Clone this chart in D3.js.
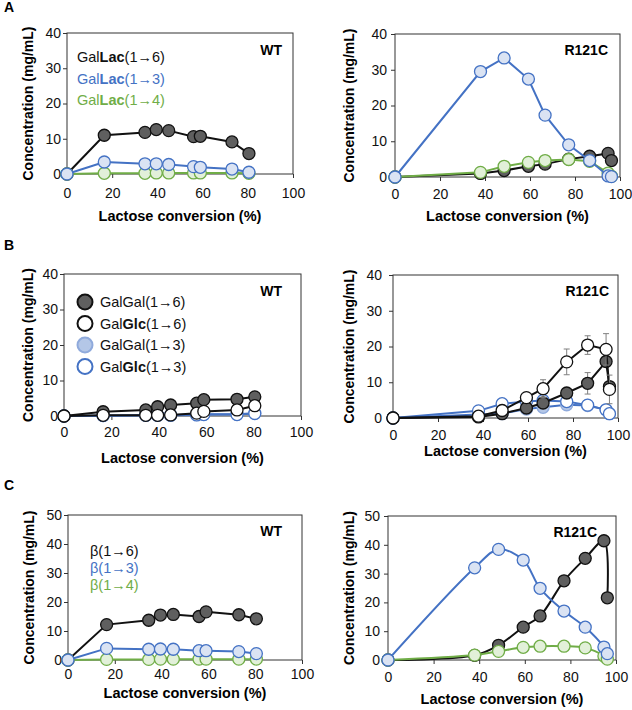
<!DOCTYPE html>
<html>
<head>
<meta charset="utf-8">
<script src="https://cdn.jsdelivr.net/npm/d3@7"></script>
<style>
  body { margin: 0; background: #fff; }
  svg { display: block; font-family: "Liberation Sans", Arial, sans-serif; }
</style>
</head>
<body>
<svg id="fig" width="632" height="710"></svg>
<script>
// lactose conversion (%) at each sampling point
const convWT = [0, 16.5, 34.5, 39.5, 45, 56, 59, 73, 80.5];
const convR121C = [0, 38, 48.5, 59.3, 66.7, 77.2, 86.5, 94.7, 96.2];
const xTicks = [0, 20, 40, 60, 80, 100];
const yTicks40 = [0, 10, 20, 30, 40];
const yTicks50 = [0, 10, 20, 30, 40, 50];

// A: trisaccharides (mg/mL)
const galLac16WT = [0, 11.0, 11.8, 12.6, 12.3, 10.6, 10.7, 9.1, 5.8];
const galLac13WT = [0, 3.4, 2.9, 2.9, 2.7, 2.1, 1.9, 1.4, 0.5];
const galLac14WT = [0, 0.2, 0.2, 0.3, 0.3, 0.3, 0.3, 0.3, 0.2];
const galLac16WTerr = [0, 0, 0, 0, 0, 0, 1.0, 0, 0];
const galLac16R = [0, 1.0, 1.8, 3.0, 3.6, 5.0, 5.8, 6.6, 4.6];
const galLac13R = [0, 29.5, 33.3, 27.4, 17.3, 9.0, 4.6, 0.3, 0.1];
const galLac14R = [0, 1.3, 3.0, 4.1, 4.6, 4.9, 4.4, 1.1, 0.2];
const galLac13Rerr = [0, 1.0, 0, 0, 0, 0, 0, 0, 0];

// B: disaccharides (mg/mL)
const galGal16WT = [0, 1.2, 1.7, 2.6, 3.1, 3.6, 4.6, 4.7, 5.4];
const galGlc16WT = [0, 0.2, 0.2, 0.2, 0.3, 0.8, 1.3, 1.7, 2.9];
const galGal13WT = [0, 0.1, 0.2, 0.2, 0.3, 0.4, 0.5, 0.5, 0.8];
const galGlc13WT = [0, 0.1, 0.2, 0.2, 0.2, 0.3, 0.4, 0.4, 0.7];
const galGal16R = [0, 0.3, 1.2, 2.8, 4.2, 7.0, 9.7, 15.8, 8.8];
const galGlc16R = [0, 0.5, 2.1, 5.7, 8.2, 15.7, 20.4, 19.2, 8.0];
const galGal13R = [0, 1.0, 1.2, 2.5, 3.0, 3.7, 3.5, 2.3, 1.2];
const galGlc13R = [0, 2.0, 4.0, 4.6, 4.9, 4.6, 3.6, 2.3, 1.2];
const galGal16Rerr = [0, 0, 0, 0, 0, 0, 3.0, 0, 0];
const galGlc16Rerr = [0, 0, 0, 0, 2.5, 3.6, 2.6, 4.4, 4.0];

// C: sum per linkage (mg/mL)
const beta16WT = [0, 12.2, 13.7, 15.5, 15.7, 15.0, 16.6, 15.6, 14.2];
const beta13WT = [0, 4.0, 3.7, 3.8, 3.7, 3.2, 3.2, 2.9, 2.2];
const beta14WT = [0, 0.2, 0.2, 0.3, 0.3, 0.3, 0.3, 0.3, 0.3];
const beta16R = [0, 1.6, 5.1, 11.4, 15.3, 27.5, 35.3, 41.4, 21.6];
const beta13R = [0, 32.0, 38.4, 34.7, 24.9, 17.0, 11.4, 4.5, 2.2];
const beta14R = [0, 1.7, 3.0, 4.4, 4.8, 4.8, 4.2, 1.4, 0.3];

const styles = {
  dark:   { line: "#111", stroke: "#111", fill: "#5f5f5f" },
  white:  { line: "#111", stroke: "#111", fill: "#fff" },
  blue:   { line: "#4472c4", stroke: "#4472c4", fill: "#dae3f3" },
  blueF:  { line: "#4472c4", stroke: "#8faadc", fill: "#b4c7e7" },
  blueW:  { line: "#4472c4", stroke: "#4472c4", fill: "#fff" },
  green:  { line: "#70ad47", stroke: "#70ad47", fill: "#e2f0d9" }
};

const svg = d3.select("#fig");

function drawPanel(p) {
  const x = d3.scaleLinear().domain([0, 100]).range([p.left, p.right]);
  const y = d3.scaleLinear().domain([0, p.yMax]).range([p.bottom, p.top]);
  const g = svg.append("g");

  const ax = g.append("g")
    .attr("transform", `translate(0,${p.bottom})`)
    .call(d3.axisBottom(x).tickValues(xTicks).tickSize(4).tickPadding(p.xPad));
  const ay = g.append("g")
    .attr("transform", `translate(${p.left},0)`)
    .call(d3.axisLeft(y).tickValues(p.yTicks).tickSize(4).tickPadding(p.yPad));
  [ax, ay].forEach(a => {
    a.select(".domain").remove();
    a.attr("font-family", null).attr("font-size", null);
    a.selectAll("line").attr("stroke", "#333");
    a.selectAll("text").attr("fill", "#111").style("font-size", "14px");
  });

  g.append("rect")
    .attr("x", p.left).attr("y", p.top)
    .attr("width", p.right - p.left).attr("height", p.bottom - p.top)
    .attr("fill", "none").attr("stroke", "#333").attr("stroke-width", 1);

  g.append("text")
    .attr("x", (p.left + p.right) / 2).attr("y", p.titleY)
    .attr("text-anchor", "middle")
    .style("font-size", "14.5px").style("font-weight", "bold")
    .text("Lactose conversion (%)");

  g.append("text")
    .attr("transform", `translate(${p.titleX},${(p.top + p.bottom) / 2}) rotate(-90)`)
    .attr("text-anchor", "middle").attr("dy", "0.35em")
    .style("font-size", "14px").style("font-weight", "bold")
    .text("Concentration (mg/mL)");

  g.append("text")
    .attr("x", p.tagX).attr("y", p.tagY)
    .attr("text-anchor", "end")
    .style("font-size", "14px").style("font-weight", "bold")
    .text(p.tag);

  const line = d3.line().x(d => x(d[0])).y(d => y(d[1])).curve(p.curve || d3.curveLinear);

  p.series.forEach(s => {
    const st = styles[s.style];
    const pts = p.conv.map((c, i) => [c, s.values[i], s.err ? s.err[i] : 0]);
    g.append("path").datum(pts)
      .attr("d", line).attr("fill", "none")
      .attr("stroke", st.line).attr("stroke-width", 2);
    const eb = g.append("g").selectAll("g").data(pts.filter(d => d[2] > 0)).join("g")
      .attr("stroke", "#808080").attr("stroke-width", 1);
    eb.append("line").attr("x1", d => x(d[0])).attr("x2", d => x(d[0]))
      .attr("y1", d => y(d[1] - d[2])).attr("y2", d => y(d[1] + d[2]));
    eb.append("line").attr("x1", d => x(d[0]) - 3).attr("x2", d => x(d[0]) + 3)
      .attr("y1", d => y(d[1] + d[2])).attr("y2", d => y(d[1] + d[2]));
    eb.append("line").attr("x1", d => x(d[0]) - 3).attr("x2", d => x(d[0]) + 3)
      .attr("y1", d => y(d[1] - d[2])).attr("y2", d => y(d[1] - d[2]));
    g.append("g").selectAll("circle").data(pts).join("circle")
      .attr("cx", d => x(d[0])).attr("cy", d => y(d[1])).attr("r", 6)
      .attr("fill", st.fill).attr("stroke", st.stroke).attr("stroke-width", 1.3);
  });
}

const panels = [
  { left: 67, right: 293, top: 33, bottom: 174, yMax: 40, yTicks: yTicks40, yPad: 2, xPad: 10,
    titleX: 28, titleY: 221, tag: "WT", tagX: 282, tagY: 55, conv: convWT,
    series: [
      { values: galLac16WT, style: "dark", err: galLac16WTerr },
      { values: galLac14WT, style: "green" },
      { values: galLac13WT, style: "blue" }
    ] },
  { left: 395, right: 620, top: 34, bottom: 177, yMax: 40, yTicks: yTicks40, yPad: 4, xPad: 8,
    titleX: 349, titleY: 221, tag: "R121C", tagX: 608, tagY: 55, conv: convR121C,
    series: [
      { values: galLac16R, style: "dark" },
      { values: galLac14R, style: "green" },
      { values: galLac13R, style: "blue", err: galLac13Rerr }
    ] },
  { left: 64, right: 301, top: 274, bottom: 416, yMax: 40, yTicks: yTicks40, yPad: 2, xPad: 7,
    titleX: 28, titleY: 463, tag: "WT", tagX: 282, tagY: 296, conv: convWT,
    series: [
      { values: galGal13WT, style: "blueF" },
      { values: galGlc13WT, style: "blueW" },
      { values: galGal16WT, style: "dark" },
      { values: galGlc16WT, style: "white" }
    ] },
  { left: 393, right: 618, top: 275, bottom: 418, yMax: 40, yTicks: yTicks40, yPad: 7, xPad: 8,
    titleX: 349, titleY: 456, tag: "R121C", tagX: 609, tagY: 296, conv: convR121C,
    series: [
      { values: galGal13R, style: "blueF" },
      { values: galGlc13R, style: "blueW" },
      { values: galGal16R, style: "dark", err: galGal16Rerr },
      { values: galGlc16R, style: "white", err: galGlc16Rerr }
    ] },
  { left: 68, right: 302, top: 515, bottom: 660, yMax: 50, yTicks: yTicks50, yPad: 2, xPad: 5,
    titleX: 29, titleY: 698, tag: "WT", tagX: 282, tagY: 536, conv: convWT,
    series: [
      { values: beta16WT, style: "dark" },
      { values: beta14WT, style: "green" },
      { values: beta13WT, style: "blue" }
    ] },
  { left: 388, right: 616, top: 516, bottom: 660, yMax: 50, yTicks: yTicks50, yPad: 4, xPad: 8,
    titleX: 349, titleY: 704, tag: "R121C", tagX: 597, tagY: 537, conv: convR121C,
    curve: d3.curveCatmullRom.alpha(0.5),
    series: [
      { values: beta16R, style: "dark" },
      { values: beta14R, style: "green" },
      { values: beta13R, style: "blue" }
    ] }
];

panels.forEach(drawPanel);

// panel letters
[["A", 12], ["B", 250], ["C", 490]].forEach(([t, yy]) => {
  svg.append("text").attr("x", 4).attr("y", yy)
    .style("font-size", "14px").style("font-weight", "bold").text(t);
});

// legend A
const legA = [["6", "#111"], ["3", "#4472c4"], ["4", "#70ad47"]];
legA.forEach(([k, col], i) => {
  const t = svg.append("text").attr("x", 77).attr("y", 62 + i * 21.7)
    .attr("fill", col).style("font-size", "14.5px");
  t.append("tspan").text("Gal");
  t.append("tspan").style("font-weight", "bold").text("Lac");
  t.append("tspan").text(`(1→${k})`);
});

// legend B
const legB = [["Gal", "Gal", "6", "dark", false], ["Gal", "Glc", "6", "white", true],
              ["Gal", "Gal", "3", "blueF", false], ["Gal", "Glc", "3", "blueW", true]];
legB.forEach(([a, b, k, st, bold], i) => {
  const cy = 302 + i * 21.5;
  svg.append("circle").attr("cx", 85).attr("cy", cy).attr("r", 7.5)
    .attr("fill", styles[st].fill).attr("stroke", styles[st].stroke).attr("stroke-width", 2);
  const t = svg.append("text").attr("x", 100).attr("y", cy + 5)
    .attr("fill", "#111").style("font-size", "14.5px");
  t.append("tspan").text(a);
  t.append("tspan").style("font-weight", bold ? "bold" : "normal").text(b);
  t.append("tspan").text(`(1→${k})`);
});

// legend C
legA.forEach(([k, col], i) => {
  svg.append("text").attr("x", 90).attr("y", 556 + i * 17)
    .attr("fill", col).style("font-size", "14.5px").text(`β(1→${k})`);
});
</script>
</body>
</html>
